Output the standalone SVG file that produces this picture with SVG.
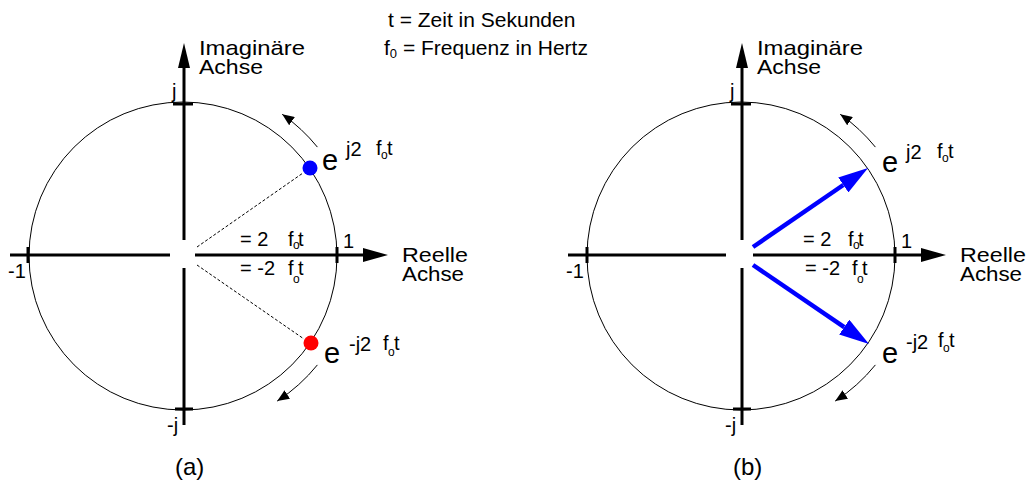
<svg xmlns="http://www.w3.org/2000/svg" width="1027" height="483" viewBox="0 0 1027 483">
<style>
text{font-family:"Liberation Sans",Arial,sans-serif;fill:#000}
.lbl{font-size:21px}
.axis{stroke:#000;stroke-width:3;fill:none}
.tick{stroke:#000;stroke-width:3}
.circ{stroke:#000;stroke-width:1;fill:none}
.rot{stroke:#000;stroke-width:1;fill:none;marker-end:url(#small)}
.dash{stroke:#000;stroke-width:1;stroke-dasharray:3 2;fill:none}
.vec{stroke:#0000ff;stroke-width:4.5;fill:none;marker-end:url(#big)}
.eb{font-size:29px}
.sup{font-size:20px}
.sub{font-size:12px}
.ang{font-size:20px}
.cap{font-size:24px}
</style>
<defs>
<marker id="small" markerUnits="userSpaceOnUse" viewBox="0 0 12 10" markerWidth="12" markerHeight="10" refX="12" refY="5" orient="auto"><path d="M0,0 L12,5 L0,10 z" fill="#000"/></marker>
<marker id="big" markerUnits="userSpaceOnUse" viewBox="0 -9 30 18" markerWidth="30" markerHeight="18" refX="0" refY="0" orient="auto"><path d="M0,-9 L30,0 L0,9 z" fill="#0000ff"/></marker>
<marker id="axr" markerUnits="userSpaceOnUse" viewBox="0 -7 25 14" markerWidth="25" markerHeight="14" refX="0" refY="0" orient="auto"><path d="M0,-7 L25,0 L0,7 z" fill="#000"/></marker>
<marker id="axu" markerUnits="userSpaceOnUse" viewBox="0 -6 25 12" markerWidth="25" markerHeight="12" refX="0" refY="0" orient="auto"><path d="M0,-6 L25,0 L0,6 z" fill="#000"/></marker>
</defs>

<text class="lbl" x="388" y="27">t = Zeit in Sekunden</text>
<text class="lbl" x="384" y="55">f<tspan font-size="13" dy="3">0</tspan><tspan dy="-3"> = Frequenz in Hertz</tspan></text>

<!-- Panel (a) -->
<g id="panel-a">
  <g id="a-circle"><circle class="circ" cx="183" cy="256" r="154"/></g>
  <g id="a-axes">
    <line class="axis" x1="10" y1="255" x2="170" y2="255"/>
    <line class="axis" x1="195" y1="255" x2="363" y2="255" marker-end="url(#axr)"/>
    <line class="axis" x1="184" y1="240" x2="184" y2="68" marker-end="url(#axu)"/>
    <line class="axis" x1="184" y1="268" x2="184" y2="425"/>
    <line class="tick" x1="28" y1="247" x2="28" y2="263"/>
    <line class="tick" x1="337" y1="247" x2="337" y2="263"/>
    <line class="tick" x1="173" y1="104" x2="193" y2="104"/>
    <line class="tick" x1="175" y1="409" x2="193" y2="409"/>
  </g>
  <g id="a-labels">
    <text class="lbl" x="199" y="55" textLength="106" lengthAdjust="spacingAndGlyphs">Imaginäre</text>
    <text class="lbl" x="199" y="74" textLength="64" lengthAdjust="spacingAndGlyphs">Achse</text>
    <text class="lbl" x="402" y="262" textLength="66" lengthAdjust="spacingAndGlyphs">Reelle</text>
    <text class="lbl" x="402" y="281" textLength="62" lengthAdjust="spacingAndGlyphs">Achse</text>
    <text class="ang" x="172" y="98">j</text>
    <text class="ang" x="167" y="432">-j</text>
    <text class="ang" x="8" y="278">-1</text>
    <text class="ang" x="343" y="248">1</text>
    <text class="ang" x="240" y="246">= 2</text>
    <text class="ang" x="288" y="246">f</text><text class="sub" x="293" y="249">o</text><text class="ang" x="298" y="246">t</text>
    <text class="ang" x="240" y="275">= -2</text>
    <text class="ang" x="288" y="275">f</text><text class="sub" x="293" y="283">o</text><text class="ang" x="298" y="275">t</text>
    <text class="cap" x="175" y="475">(a)</text>
  </g>
  <g id="a-phasor-pos">
    <line class="dash" x1="197" y1="247" x2="303" y2="173"/>
    <circle cx="310" cy="168" r="7.5" fill="#0000ff"/>
    <text class="eb" x="322" y="170">e</text>
    <text class="sup" x="346" y="156">j2</text>
    <text class="sup" x="376" y="155">f</text><text class="sub" x="381" y="159">o</text><text class="sup" x="387" y="155">t</text>
  </g>
  <g id="a-phasor-neg">
    <line class="dash" x1="197" y1="265" x2="304" y2="339"/>
    <circle cx="311" cy="343" r="7.5" fill="#ff0000"/>
    <text class="eb" x="324" y="363">e</text>
    <text class="sup" x="349" y="351">-j2</text>
    <text class="sup" x="383" y="350">f</text><text class="sub" x="388" y="356">o</text><text class="sup" x="394" y="350">t</text>
  </g>
</g>

<!-- Panel (b) -->
<g id="panel-b">
  <g id="b-circle"><circle class="circ" cx="741" cy="256" r="154"/></g>
  <g id="b-axes">
    <line class="axis" x1="568" y1="255" x2="726" y2="255"/>
    <line class="axis" x1="753" y1="255" x2="921" y2="255" marker-end="url(#axr)"/>
    <line class="axis" x1="742" y1="240" x2="742" y2="68" marker-end="url(#axu)"/>
    <line class="axis" x1="742" y1="268" x2="742" y2="425"/>
    <line class="tick" x1="587" y1="247" x2="587" y2="263"/>
    <line class="tick" x1="895" y1="247" x2="895" y2="263"/>
    <line class="tick" x1="731" y1="104" x2="751" y2="104"/>
    <line class="tick" x1="733" y1="409" x2="751" y2="409"/>
  </g>
  <g id="b-labels">
    <text class="lbl" x="757" y="55" textLength="106" lengthAdjust="spacingAndGlyphs">Imaginäre</text>
    <text class="lbl" x="757" y="74" textLength="64" lengthAdjust="spacingAndGlyphs">Achse</text>
    <text class="lbl" x="960" y="262" textLength="66" lengthAdjust="spacingAndGlyphs">Reelle</text>
    <text class="lbl" x="960" y="281" textLength="62" lengthAdjust="spacingAndGlyphs">Achse</text>
    <text class="ang" x="730" y="98">j</text>
    <text class="ang" x="725" y="432">-j</text>
    <text class="ang" x="566" y="278">-1</text>
    <text class="ang" x="901" y="248">1</text>
    <text class="ang" x="803" y="246">= 2</text>
    <text class="ang" x="848" y="246">f</text><text class="sub" x="853" y="249">o</text><text class="ang" x="858" y="246">t</text>
    <text class="ang" x="805" y="275">= -2</text>
    <text class="ang" x="852" y="275">f</text><text class="sub" x="857" y="283">o</text><text class="ang" x="862" y="275">t</text>
    <text class="cap" x="733" y="475">(b)</text>
  </g>
  <g id="b-phasor-pos">
    <line class="vec" x1="753" y1="247" x2="843.3" y2="185"/>
    <text class="eb" x="882" y="172">e</text>
    <text class="sup" x="906" y="159">j2</text>
    <text class="sup" x="937" y="158">f</text><text class="sub" x="942" y="162">o</text><text class="sup" x="948" y="158">t</text>
  </g>
  <g id="b-phasor-neg">
    <line class="vec" x1="753" y1="265" x2="844.2" y2="327.1"/>
    <text class="eb" x="882" y="363">e</text>
    <text class="sup" x="906" y="349">-j2</text>
    <text class="sup" x="938" y="347">f</text><text class="sub" x="943" y="352">o</text><text class="sup" x="949" y="347">t</text>
  </g>
</g>

<g id="connectors">
  <path class="rot" d="M317.4,147.1 A173,173 0 0 0 282.2,114.3"/>
  <path class="rot" d="M317.4,364.9 A173,173 0 0 1 277.2,401.1"/>
  <path class="rot" d="M875.4,147.1 A173,173 0 0 0 840.2,114.3"/>
  <path class="rot" d="M875.4,364.9 A173,173 0 0 1 835.2,401.1"/>
</g>
</svg>
